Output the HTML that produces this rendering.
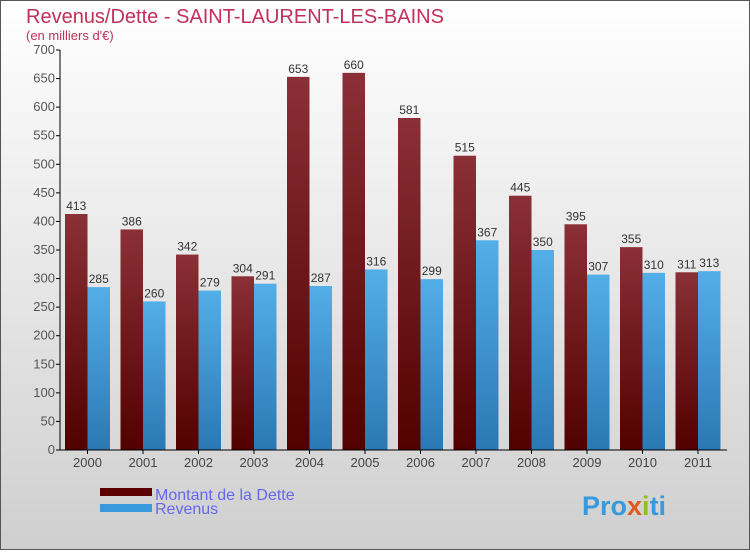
<!DOCTYPE html>
<html><head><meta charset="utf-8"><style>
body{margin:0}
#c{width:750px;height:550px;position:relative;font-family:"Liberation Sans",sans-serif;}
</style></head><body>
<div id="c">
<svg width="750" height="550" xmlns="http://www.w3.org/2000/svg" id="s">
<defs>
<linearGradient id="bg" x1="0" y1="0" x2="0" y2="1"><stop offset="0" stop-color="#ffffff"/><stop offset="1" stop-color="#cfcfcf"/></linearGradient>
<linearGradient id="gd" x1="0" y1="0" x2="0" y2="1"><stop offset="0" stop-color="#8a3036"/><stop offset="1" stop-color="#520000"/></linearGradient>
<linearGradient id="gr" x1="0" y1="0" x2="0" y2="1"><stop offset="0" stop-color="#54aee8"/><stop offset="1" stop-color="#2a78b4"/></linearGradient>
</defs>
<rect x="0.5" y="0.5" width="749" height="549" fill="url(#bg)" stroke="#555"/>
<text x="26" y="23" font-size="20" fill="#c0305a">Revenus/Dette - SAINT-LAURENT-LES-BAINS</text>
<text x="26" y="40" font-size="13" fill="#c0305a">(en milliers d'€)</text>
<g id="plot"></g>
<rect x="100" y="488" width="52" height="8" fill="#5a0000"/>
<rect x="100" y="504" width="52" height="8" fill="#3a98dc"/>
<text x="155" y="500" font-size="16" fill="#6666ee">Montant de la Dette</text>
<text x="155" y="514" font-size="16" fill="#6666ee">Revenus</text>
<text x="582" y="515" font-size="27" font-weight="bold" fill="#3a98dc">Pro<tspan fill="#e05a20">x</tspan><tspan fill="#90c020">i</tspan>ti</text>
</svg>
</div>
<script>
const years=["2000","2001","2002","2003","2004","2005","2006","2007","2008","2009","2010","2011"];
const dette=[413,386,342,304,653,660,581,515,445,395,355,311];
const revenus=[285,260,279,291,287,316,299,367,350,307,310,313];
const yTicks=[0,50,100,150,200,250,300,350,400,450,500,550,600,650,700];
const NS="http://www.w3.org/2000/svg";
const g=document.getElementById('plot');
const x0=60,step=55.5,bw=22.5,yb=450,yt=50,ymax=700;
function y(v){return yb-(v/ymax)*(yb-yt);}
function mk(t,a){const e=document.createElementNS(NS,t);for(const k in a)e.setAttribute(k,a[k]);g.appendChild(e);return e;}
yTicks.forEach(v=>{
 const l=mk('line',{x1:56,x2:60,y1:y(v),y2:y(v),stroke:'#000'});
 
 
 const t=mk('text',{x:55,y:y(v)+4,'font-size':13,'text-anchor':'end',fill:'#555'});t.textContent=v;
 
 
});
years.forEach((yr,i)=>{
 const gx=x0+i*step+5;
 const r1=mk('rect',{x:gx,y:y(dette[i]),width:bw,height:yb-y(dette[i]),fill:'url(#gd)'});
 
 
 const r2=mk('rect',{x:gx+bw,y:y(revenus[i]),width:bw,height:yb-y(revenus[i]),fill:'url(#gr)'});
 
 
 const t1=mk('text',{x:gx+bw/2,y:y(dette[i])-4,'font-size':12,'text-anchor':'middle',fill:'#333'});t1.textContent=dette[i];
 
 
 const t2=mk('text',{x:gx+bw*1.5,y:y(revenus[i])-4,'font-size':12,'text-anchor':'middle',fill:'#333'});t2.textContent=revenus[i];
 
 
 const tk=mk('line',{x1:gx+bw,x2:gx+bw,y1:450,y2:454,stroke:'#000'});
 
 
 const xl=mk('text',{x:gx+bw,y:467,'font-size':13,'text-anchor':'middle',fill:'#444'});xl.textContent=yr;
 
 
});
const ax=mk('line',{x1:60,x2:60,y1:50,y2:450,stroke:'#000'});


const bx=mk('line',{x1:60,x2:727,y1:450,y2:450,stroke:'#000'});


</script>
</body></html>
